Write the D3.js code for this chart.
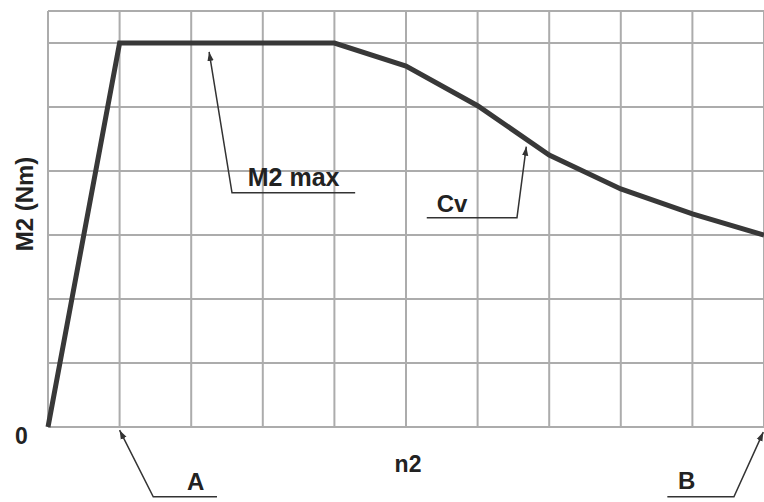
<!DOCTYPE html>
<html>
<head>
  <meta http-equiv="Content-Type" content="text/html; charset=utf-8"/>
  <title>M2 vs n2</title>
  <script src="https://d3js.org/d3.v7.min.js"></script>
  <style>
    body { margin: 0; background: #fff; }
    svg text { font-family: "Liberation Sans", Arial, sans-serif; font-weight: bold; fill: #222; }
  </style>
</head>
<body>
<svg></svg>
<script type="text/javascript">

// curve points (grid units: n2 columns, M2 rows)
const curveN = [0, 1, 4, 5, 6, 7, 8, 9, 10];
const curveM = [0, 6, 6, 5.64, 5.02, 4.25, 3.72, 3.33, 3.0];

// grid lines
const xGrid = d3.range(0, 11);
const yGrid = [0, 1, 2, 3, 4, 5, 6, 6.5];

// callouts: arrow tip, bend, end of underline, label
const calloutNames = ["M2 max", "Cv", "A", "B"];
const calloutSizes = [25, 24, 24, 24];
const calloutTips  = [[2.25, 5.86], [6.68, 4.38], [1.0, -0.05], [9.99, -0.08]];
const calloutBends = [[2.57, 3.66], [6.55, 3.27], [1.47, -1.09], [9.58, -1.09]];
const calloutEnds  = [[4.29, 3.66], [5.29, 3.27], [2.36, -1.09], [8.65, -1.09]];
const calloutText  = [[2.79, 3.76], [5.43, 3.36], [1.94, -0.99], [8.80, -0.97]];

const width = 764, height = 502;

const svg = d3.select("svg")
    .attr("width", width)
    .attr("height", height);

const x = d3.scaleLinear().domain([0, 10]).range([48, 764]);
const y = d3.scaleLinear().domain([0, 6.5]).range([427, 11]);

svg.append("defs").append("marker")
    .attr("id", "arrow")
    .attr("viewBox", "0 0 10 10")
    .attr("refX", 10)
    .attr("refY", 5)
    .attr("markerWidth", 9)
    .attr("markerHeight", 9)
    .attr("markerUnits", "userSpaceOnUse")
    .attr("orient", "auto")
  .append("path")
    .attr("d", "M0,1.5L10,5L0,8.5Z")
    .attr("fill", "#333");

// grid
svg.append("g")
  .selectAll("line")
  .data(xGrid)
  .join("line")
    .attr("x1", d => x(d))
    .attr("x2", d => x(d))
    .attr("y1", y(6.5))
    .attr("y2", y(0))
    .attr("stroke", "#acacac")
    .attr("stroke-width", 2);

svg.append("g")
  .selectAll("line")
  .data(yGrid)
  .join("line")
    .attr("x1", x(0))
    .attr("x2", x(10))
    .attr("y1", d => y(d))
    .attr("y2", d => y(d))
    .attr("stroke", "#acacac")
    .attr("stroke-width", 2);

// curve
const line = d3.line()
    .x(d => x(d[0]))
    .y(d => y(d[1]));

svg.append("path")
    .datum(curveN.map((n, i) => [n, curveM[i]]))
    .attr("d", line)
    .attr("fill", "none")
    .attr("stroke", "#383838")
    .attr("stroke-width", 5)
    .attr("stroke-linejoin", "miter");

// callouts
calloutNames.forEach((name, i) => {
  const pts = [calloutEnds[i], calloutBends[i], calloutTips[i]];
  svg.append("path")
      .datum(pts)
      .attr("d", line)
      .attr("fill", "none")
      .attr("stroke", "#333")
      .attr("stroke-width", 1.5)
      .attr("marker-end", "url(#arrow)");

  svg.append("text")
      .attr("x", x(calloutText[i][0]))
      .attr("y", y(calloutText[i][1]))
      .style("font-size", calloutSizes[i] + "px")
      .text(name);
});

// axis labels
svg.append("text")
    .attr("x", 15)
    .attr("y", 444)
    .style("font-size", "23px")
    .text("0");

svg.append("text")
    .attr("x", 408)
    .attr("y", 472)
    .attr("text-anchor", "middle")
    .style("font-size", "23px")
    .text("n2");

svg.append("text")
    .attr("transform", "translate(33,204) rotate(-90)")
    .attr("text-anchor", "middle")
    .style("font-size", "24px")
    .text("M2 (Nm)");

</script>
</body>
</html>
